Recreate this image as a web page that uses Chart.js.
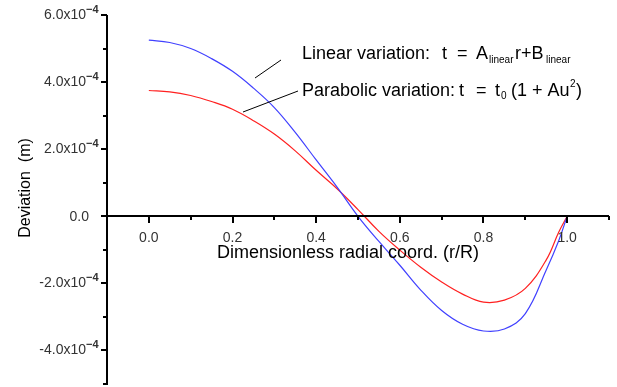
<!DOCTYPE html>
<html>
<head>
<meta charset="utf-8">
<script src="https://cdn.jsdelivr.net/npm/chart.js@4/dist/chart.umd.min.js"></script>
<style>
  body { margin: 0; background: #fff; }
  #wrap { width: 617px; height: 387px; }
</style>
</head>
<body>
<div id="wrap"><canvas id="chart" width="617" height="387"></canvas></div>
<script>
// r/R positions
const radial = [0, 0.05, 0.1, 0.15, 0.2, 0.25, 0.3, 0.35, 0.4, 0.45, 0.5, 0.55, 0.6, 0.65, 0.7, 0.75, 0.8, 0.85, 0.9, 0.95, 0.98, 1.0]
// deviation (m), blue curve
const linearDev = [5.25e-4, 5.18e-4, 5.0e-4, 4.7e-4, 4.32e-4, 3.82e-4, 3.24e-4, 2.5e-4, 1.68e-4, 0.87e-4, 0.0, -0.75e-4, -1.46e-4, -2.2e-4, -2.81e-4, -3.22e-4, -3.42e-4, -3.36e-4, -2.9e-4, -1.6e-4, -0.72e-4, 0]
// deviation (m), red curve
const parabolicDev = [3.75e-4, 3.71e-4, 3.6e-4, 3.42e-4, 3.19e-4, 2.85e-4, 2.45e-4, 1.95e-4, 1.37e-4, 0.82e-4, 0.2e-4, -0.45e-4, -1.01e-4, -1.52e-4, -1.96e-4, -2.32e-4, -2.56e-4, -2.5e-4, -2.15e-4, -1.3e-4, -0.47e-4, 0]

const xTicks = [0, 0.2, 0.4, 0.6, 0.8, 1.0]
const xTickLabels = ["0.0", "0.2", "0.4", "0.6", "0.8", "1.0"]
const yTicks = [6e-4, 4e-4, 2e-4, 0, -2e-4, -4e-4]
const yTickLabels = ["6.0x10", "4.0x10", "2.0x10", "0.0", "-2.0x10", "-4.0x10"]
const yTickExp = ["\u22124", "\u22124", "\u22124", "", "\u22124", "\u22124"]

const toPoints = (ys) => radial.map((r, i) => ({ x: r, y: ys[i] }))

function line(ctx, x1, y1, x2, y2) {
  ctx.beginPath()
  ctx.moveTo(x1, y1)
  ctx.lineTo(x2, y2)
  ctx.stroke()
}

// axes crossing at zero, ticks, labels and the two notes
const axesPlugin = {
  id: "axesPlugin",
  afterDraw(chart) {
    const ctx = chart.ctx
    const sx = chart.scales.x
    const sy = chart.scales.y
    const area = chart.chartArea
    const y0 = Math.round(sy.getPixelForValue(0))

    ctx.save()
    ctx.strokeStyle = "#000"
    ctx.lineWidth = 2
    line(ctx, area.left, area.top, area.left, area.bottom + 1)
    line(ctx, area.left, y0, area.right, y0)

    // y ticks every 1e-4, long ones on labels
    for (let k = -5; k <= 6; k++) {
      const py = Math.round(sy.getPixelForValue(k * 1e-4))
      const len = k % 2 === 0 ? 6 : 4
      line(ctx, area.left - len, py, area.left, py)
    }
    // x ticks every 0.1
    for (let k = 0; k <= 11; k++) {
      const px = Math.round(sx.getPixelForValue(k / 10))
      const len = k % 2 === 0 ? 7 : 4
      line(ctx, px, y0, px, y0 + len)
    }

    ctx.fillStyle = "#333"
    ctx.textBaseline = "alphabetic"
    ctx.font = "14px 'Liberation Sans', Arial, sans-serif"
    ctx.textAlign = "center"
    xTicks.forEach((v, i) => {
      ctx.fillText(xTickLabels[i], sx.getPixelForValue(v), y0 + 26)
    })

    yTicks.forEach((v, i) => {
      const py = sy.getPixelForValue(v)
      ctx.font = "14px 'Liberation Sans', Arial, sans-serif"
      ctx.textAlign = "right"
      if (yTickExp[i] === "") {
        ctx.fillText(yTickLabels[i], 89, py + 5)
      } else {
        ctx.fillText(yTickLabels[i], 86, py + 4)
        ctx.font = "bold 11px 'Liberation Sans', Arial, sans-serif"
        ctx.textAlign = "left"
        ctx.fillText(yTickExp[i], 86, py - 2)
      }
    })

    // axis titles
    ctx.fillStyle = "#000"
    ctx.font = "18px 'Liberation Sans', Arial, sans-serif"
    ctx.textAlign = "center"
    ctx.fillText("Dimensionless radial coord. (r/R)", 348, 258)
    ctx.save()
    ctx.translate(30, 188)
    ctx.rotate(-Math.PI / 2)
    ctx.font = "16px 'Liberation Sans', Arial, sans-serif"
    ctx.fillText("Deviation  (m)", 0, 0)
    ctx.restore()

    // notes, each piece at its own spot
    const big = "18px 'Liberation Sans', Arial, sans-serif"
    const small = "10px 'Liberation Sans', Arial, sans-serif"
    const put = (txt, f, x, y) => {
      ctx.font = f
      ctx.textAlign = "left"
      ctx.fillText(txt, x, y)
    }
    put("Linear variation:", big, 302, 59)
    put("t", big, 442, 59)
    put("=", big, 457, 59)
    put("A", big, 476, 59)
    put("linear", small, 489, 63)
    put("r+B", big, 515, 59)
    put("linear", small, 546, 63)

    put("Parabolic variation:", big, 302, 96)
    put("t", big, 459, 96)
    put("=", big, 476, 96)
    put("t", big, 495, 96)
    put("0", small, 501, 99)
    put("(1 + Au", big, 511, 96)
    put("2", small, 570, 87)
    put(")", big, 576, 96)

    ctx.lineWidth = 1
    ctx.strokeStyle = "#000"
    line(ctx, 255, 78, 281, 60)
    line(ctx, 243, 112, 298, 91)
    ctx.restore()
  }
}

new Chart(document.getElementById("chart"), {
  type: "line",
  data: {
    datasets: [
      {
        label: "Linear variation",
        data: toPoints(linearDev),
        borderColor: "#4040ff",
        borderWidth: 1.2,
        pointRadius: 0,
        tension: 0.4,
        fill: false
      },
      {
        label: "Parabolic variation",
        data: toPoints(parabolicDev),
        borderColor: "#ff2020",
        borderWidth: 1.2,
        pointRadius: 0,
        tension: 0.4,
        fill: false
      }
    ]
  },
  options: {
    responsive: false,
    devicePixelRatio: 1,
    animation: false,
    layout: { padding: { left: 107, top: 15, right: 8, bottom: 3 } },
    plugins: { legend: { display: false }, tooltip: { enabled: false } },
    scales: {
      x: { type: "linear", min: -0.1, max: 1.1, display: false },
      y: { type: "linear", min: -5e-4, max: 6e-4, display: false }
    }
  },
  plugins: [axesPlugin]
})
</script>
</body>
</html>
